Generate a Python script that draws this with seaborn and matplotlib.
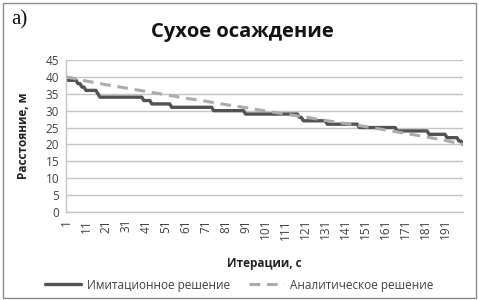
""""""

import matplotlib as mpl
import matplotlib.pyplot as plt
import numpy as np
import pandas as pd
import seaborn as sns

# simulated solution, read off the chart as runs of (level, number of iterations)
sim_levels = [39, 38, 37, 36, 35, 34, 33, 32, 31, 30, 29, 28, 27, 26, 25, 24, 23, 22, 21, 20]
sim_runs = [6, 2, 2, 6, 1, 22, 4, 10, 21, 16, 27, 2, 12, 16, 19, 16, 9, 6, 2, 1]

# analytic solution, read at every 10th iteration
ana_iter = [1, 11, 21, 31, 41, 51, 61, 71, 81, 91, 101, 111, 121, 131, 141, 151, 161, 171, 181, 191, 200]
ana_dist = [40.0, 38.8, 37.7, 36.7, 35.7, 34.7, 33.7, 32.8, 31.8, 30.9, 29.9, 29.0, 28.1, 27.1,
            26.2, 25.3, 24.3, 23.3, 22.3, 21.2, 20.0]

xticks = list(range(1, 200, 10))
yticks = list(range(0, 46, 5))

sim_dist = np.repeat(sim_levels, sim_runs)
sim_df = pd.DataFrame({"iter": np.arange(1, len(sim_dist) + 1), "dist": sim_dist})
ana_df = pd.DataFrame({"iter": ana_iter, "dist": ana_dist})

sns.set_theme(style="white")
plt.rcParams["font.family"] = ["Open Sans", "DejaVu Sans"]

fig = plt.figure(figsize=(4.79, 3.0), dpi=100)
ax = fig.add_axes([66 / 479, 1 - 212 / 300, (463 - 66) / 479, (212 - 60) / 300])

sns.lineplot(data=sim_df, x="iter", y="dist", estimator=None, color="#525252",
             linewidth=2.4, label="Имитационное решение", ax=ax)
sns.lineplot(data=ana_df, x="iter", y="dist", estimator=None, color="#ababab",
             linewidth=2.2, dashes=False, label="Аналитическое решение", ax=ax)
ax.lines[1].set_dashes((3.5, 2.2))

ax.set_xlim(1, 200)
ax.set_ylim(0, 45)
ax.set_xticks(xticks)
ax.set_xticklabels([str(t) for t in xticks], rotation=90, fontsize=8.5, color="#404040")
ax.set_yticks(yticks)
ax.set_yticklabels([str(t) for t in yticks], fontsize=8.5, color="#404040")
ax.tick_params(axis="both", length=0, pad=5)
ax.yaxis.grid(True, color="#c4c4c4", linewidth=1)
ax.xaxis.grid(False)
for side in ["top", "right"]:
    ax.spines[side].set_visible(False)
for side in ["left", "bottom"]:
    ax.spines[side].set_color("#c4c4c4")
    ax.spines[side].set_linewidth(1)

ax.set_xlabel("Итерации, с", fontsize=8.5, fontweight="bold", color="#222222")
ax.set_ylabel("Расстояние, м", fontsize=8.5, fontweight="bold", color="#222222")
ax.xaxis.set_label_coords(0.5, -(257 - 212) / 152)
ax.yaxis.set_label_coords(-(66 - 30) / 397, 0.5)

ax.get_legend().remove()
handles, labels = ax.get_legend_handles_labels()
handles[1].set_dashes((3.5, 2.2))
fig.legend(handles, labels, loc="center", bbox_to_anchor=(0.5, 1 - 285 / 300), ncol=2,
           frameon=False, fontsize=8.5, handlelength=3.0, handletextpad=0.5,
           columnspacing=1.6, labelcolor="#404040")

fig.text(0.505, 1 - 36.5 / 300, "Сухое осаждение", ha="center", va="baseline",
         fontsize=14.5, fontweight="bold", color="#111111")
fig.text(11 / 479, 1 - 10 / 300, "a)", ha="left", va="top", fontsize=15,
         family=["Liberation Serif", "DejaVu Serif"], color="#111111")

fig.add_artist(mpl.patches.Rectangle((3 / 479, 2.5 / 300), 473 / 479, 295 / 300,
                                     transform=fig.transFigure, fill=False,
                                     edgecolor="#8a8a8a", linewidth=1))

plt.savefig("out.png", dpi=100)
